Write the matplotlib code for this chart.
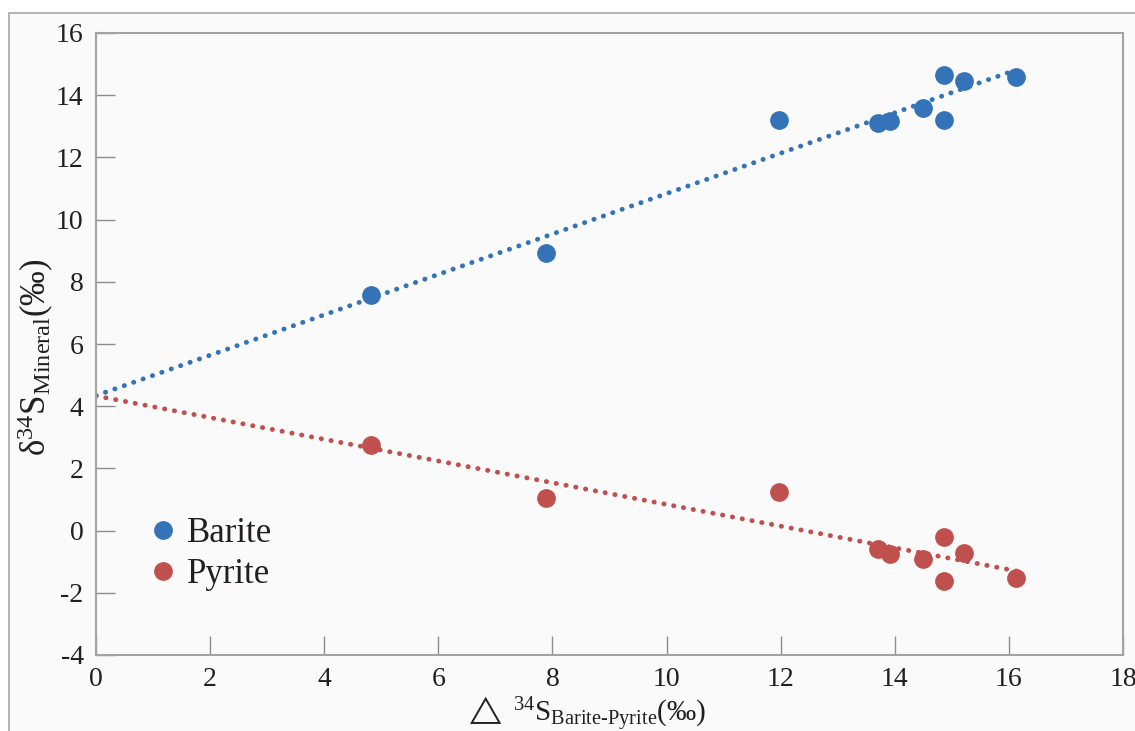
import numpy as np
import matplotlib
matplotlib.use("Agg")
import matplotlib.pyplot as plt
from matplotlib.patches import Rectangle

# ──────────────────────────────────────────────
# data
# ──────────────────────────────────────────────
delta_bp = [4.82, 7.88, 11.97, 13.71, 13.92, 14.50, 14.87, 14.87, 15.21, 16.13]
barite   = [7.56, 8.91, 13.21, 13.11, 13.16, 13.59, 14.66, 13.21, 14.47, 14.59]
pyrite   = [2.74, 1.04, 1.23, -0.60, -0.75, -0.90, -0.20, -1.61, -0.73, -1.53]

X_TICKS = list(range(0, 19, 2))
Y_TICKS = list(range(-4, 17, 2))

C_BARITE = "#3573b8"
C_PYRITE = "#c0504d"
C_SPINE  = "#a3a3a3"
C_TEXT   = "#231f20"
C_BG     = "#fafafa"

plt.rcParams["font.family"] = ["Liberation Serif", "DejaVu Serif"]
plt.rcParams["mathtext.fontset"] = "custom"
plt.rcParams["mathtext.rm"] = "Liberation Serif"
plt.rcParams["mathtext.it"] = "Liberation Serif:italic"
plt.rcParams["mathtext.bf"] = "Liberation Serif:bold"
plt.rcParams["mathtext.fallback"] = "stix"
plt.rcParams["axes.unicode_minus"] = False

W, H = 1135, 731
fig = plt.figure(figsize=(W / 100, H / 100), dpi=100, facecolor="white")

# outer frame (only top/left edges visible in the crop)
fig.patches.append(Rectangle((8.5 / W, -0.1), 1.2, (H - 13) / H + 0.1,
                             transform=fig.transFigure, facecolor=C_BG,
                             edgecolor="#a8a8a8", lw=1.2, zorder=-10))

ax = fig.add_axes([96 / W, (H - 655) / H, (1123 - 96) / W, (655 - 33) / H])
ax.set_facecolor(C_BG)

x = np.array(delta_bp)
xs = np.array([0, x.max()])
for y, c in [(barite, C_BARITE), (pyrite, C_PYRITE)]:
    k, b = np.polyfit(x, np.array(y), 1)
    ax.plot(xs, k * xs + b, color=c, lw=3.5, ls=(0, (0.05, 2.0)),
            dash_capstyle="round", zorder=2)

ax.plot(delta_bp, barite, "o", ms=13.5, color=C_BARITE, mec="none",
        label="Barite", zorder=3)
ax.plot(delta_bp, pyrite, "o", ms=13.5, color=C_PYRITE, mec="none",
        label="Pyrite", zorder=3)

ax.set_xlim(0, 18)
ax.set_ylim(-4, 16)
ax.set_xticks(X_TICKS)
ax.set_yticks(Y_TICKS)
ax.tick_params(direction="in", length=14, width=1, color="#8c8c8c",
               labelsize=20, labelcolor=C_TEXT)
ax.tick_params(axis="y", pad=9)
ax.tick_params(axis="x", pad=9)
for s in ax.spines.values():
    s.set_color(C_SPINE)
    s.set_linewidth(1.5)

leg = ax.legend(loc="center left", bbox_to_anchor=(0.038, 0.162),
                frameon=False, fontsize=25, handlelength=0.6,
                handletextpad=0.4, labelspacing=0.22, borderpad=0)
for t in leg.get_texts():
    t.set_color(C_TEXT)

fig.text(36 / W, (H - 357) / H,
         r"δ$^{34}$S$_{\mathrm{Mineral}}$(‰)",
         rotation=90, ha="center", va="center", fontsize=25, color=C_TEXT)
fig.text(585 / W, 9 / H,
         r"$\triangle$ $^{34}$S$_{\mathrm{Barite\text{-}Pyrite}}$(‰)",
         ha="center", va="baseline", fontsize=21, color=C_TEXT)

fig.savefig("out.png", dpi=100, facecolor=fig.get_facecolor())
